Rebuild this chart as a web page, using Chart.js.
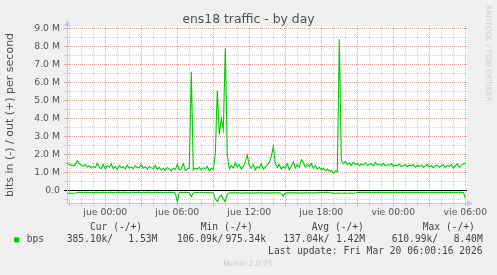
<!DOCTYPE html>
<html>
<head>
<meta charset="utf-8">
<script src="https://cdn.jsdelivr.net/npm/chart.js@4"></script>
<style>
  html, body { margin: 0; padding: 0; background: #f0f0f0; }
  #wrap { position: relative; width: 497px; height: 275px; }
</style>
</head>
<body>
<div id="wrap"><canvas id="trafficChart" width="497" height="275"></canvas></div>
<script>
// samples every 10 minutes, hours relative to "jue 00:00"
const firstSampleHour = -19 / 6;
const sampleStepHours = 1 / 6;

// out (+), in Mbit/s
const outMbps = [
  1.52, 1.45, 1.42, 1.38, 1.45, 1.66, 1.50, 1.42, 1.36, 1.45, 1.30, 1.40, 1.25, 1.35, 1.28, 1.52, 1.30, 1.22, 1.45,
  1.20, 1.38, 1.30, 1.48, 1.22, 1.35, 1.18, 1.40, 1.28, 1.33,
  1.20, 1.42, 1.25, 1.32, 1.22, 1.38, 1.27, 1.30, 1.45, 1.25,
  1.33, 1.20, 1.35, 1.28, 1.22, 1.40, 1.18, 1.30, 1.15, 1.25,
  1.12, 1.28, 1.20, 1.10, 1.25, 1.18, 1.45, 1.15, 1.22, 1.50,
  1.12, 1.20, 1.25, 6.60, 1.15, 1.25,
  1.20, 1.30, 1.15, 1.28, 1.20, 1.35, 1.10, 1.25, 1.18, 2.00, 5.55, 3.10, 4.00, 3.40, 7.90, 2.00,
  1.20, 1.40, 1.25, 1.55, 1.30, 1.45, 1.20, 1.35, 1.60, 1.98,
  1.40, 1.25, 1.45, 1.15, 1.35, 1.25, 1.50, 1.20, 1.30, 1.45,
  1.55, 1.90, 2.44, 1.50, 1.30, 1.45, 1.20, 1.35, 1.25, 1.50,
  1.15, 1.35, 1.60, 1.25, 1.45, 1.30, 1.72, 1.55, 1.30, 1.45,
  1.35, 1.50, 1.25, 1.40, 1.20, 1.30, 1.15, 1.25, 1.10, 1.20,
  1.08, 1.12, 0.98, 1.10, 1.05,
  8.40,
  1.70, 1.50, 1.62, 1.45, 1.55, 1.40, 1.58, 1.45, 1.50, 1.38,
  1.48, 1.42, 1.55, 1.40, 1.45, 1.50, 1.38, 1.58, 1.42, 1.48,
  1.40, 1.52, 1.38, 1.45, 1.40, 1.50, 1.35, 1.42, 1.38, 1.48,
  1.35, 1.40, 1.45, 1.32, 1.42, 1.38, 1.45, 1.30, 1.40, 1.35,
  1.42, 1.30, 1.38, 1.45, 1.32, 1.40, 1.28, 1.38, 1.42, 1.30,
  1.36, 1.45, 1.28, 1.40, 1.35, 1.45, 1.25, 1.38, 1.50, 1.30,
  1.42, 1.48, 1.53
];

// in (-), in Mbit/s, drawn below zero
const inMbps = [
  0.14, 0.14, 0.14, 0.14, 0.14, 0.10, 0.09, 0.09, 0.10, 0.09, 0.09, 0.10, 0.09, 0.12, 0.09, 0.09, 0.10, 0.09, 0.09,
  0.09, 0.10, 0.09, 0.09, 0.12, 0.10, 0.09, 0.09, 0.10, 0.09,
  0.09, 0.10, 0.12, 0.09, 0.09, 0.10, 0.09, 0.09, 0.11, 0.09,
  0.10, 0.09, 0.09, 0.12, 0.10, 0.09, 0.09, 0.10, 0.09, 0.11,
  0.09, 0.10, 0.09, 0.10, 0.09, 0.12, 0.60, 0.10, 0.09, 0.10,
  0.09, 0.10, 0.10, 0.33, 0.12, 0.10,
  0.10, 0.11, 0.10, 0.10, 0.11, 0.10, 0.11, 0.10, 0.12, 0.45, 0.60, 0.35, 0.24, 0.45, 0.61, 0.20, 0.12,
  0.12, 0.12, 0.11, 0.12, 0.12, 0.13, 0.12, 0.11, 0.12, 0.12,
  0.12, 0.13, 0.12, 0.12, 0.11, 0.12, 0.12, 0.12, 0.13, 0.12,
  0.12, 0.11, 0.12, 0.12, 0.12, 0.15, 0.30, 0.13, 0.12, 0.12,
  0.11, 0.12, 0.12, 0.12, 0.13, 0.12, 0.12, 0.11, 0.12, 0.12,
  0.12, 0.12, 0.11, 0.12, 0.09, 0.09, 0.10, 0.09, 0.09, 0.10,
  0.13, 0.13, 0.14, 0.13,
  0.13, 0.14, 0.13, 0.13, 0.14, 0.13, 0.13, 0.14, 0.13, 0.09,
  0.09, 0.09, 0.09, 0.09, 0.09, 0.09, 0.09, 0.09, 0.09, 0.09,
  0.09, 0.09, 0.09, 0.09, 0.09, 0.09, 0.09, 0.09, 0.09, 0.09,
  0.09, 0.09, 0.09, 0.09, 0.09, 0.09, 0.09, 0.09, 0.09, 0.09,
  0.09, 0.09, 0.09, 0.09, 0.09, 0.09, 0.09, 0.09, 0.09, 0.09,
  0.09, 0.09, 0.09, 0.09, 0.09, 0.09, 0.09, 0.09, 0.09, 0.09,
  0.09, 0.09, 0.10, 0.39
];

const xGridHours = [-3, -2, -1, 0, 1, 2, 3, 4, 5, 6, 7, 8, 9, 10, 11, 12, 13, 14, 15, 16,
  17, 18, 19, 20, 21, 22, 23, 24, 25, 26, 27, 28, 29, 30];
const xLabelHours = [0, 6, 12, 18, 24, 30];
const xLabelText = ["jue 00:00", "jue 06:00", "jue 12:00", "jue 18:00", "vie 00:00", "vie 06:00"];

const yGridValues = [-0.5, 0, 0.5, 1, 1.5, 2, 2.5, 3, 3.5, 4, 4.5, 5, 5.5, 6, 6.5, 7, 7.5, 8, 8.5, 9];
const yLabelValues = [0, 1, 2, 3, 4, 5, 6, 7, 8, 9];
const yLabelText = ["0.0", "1.0 M", "2.0 M", "3.0 M", "4.0 M", "5.0 M", "6.0 M", "7.0 M", "8.0 M", "9.0 M"];

const legendHeads = ["Cur (-/+)", "Min (-/+)", "Avg (-/+)", "Max (-/+)"];
const legendIn = ["385.10k/", "106.09k/", "137.04k/", "610.99k/"];
const legendOut = ["1.53M", "975.34k", "1.42M", "8.40M"];

const GREEN = "#00cc00";
const MINOR = "#cfcfcf";
const MAJOR = "#e6a0a0";
const AXIS = "#c4c4f4";

const sampleHours = outMbps.map((_, i) => firstSampleHour + i * sampleStepHours);

const munin = {
  id: "munin",
  beforeDraw(chart) {
    const c = chart.ctx, a = chart.chartArea;
    c.save();
    c.fillStyle = "#f0f0f0";
    c.fillRect(0, 0, chart.width, chart.height);
    c.fillStyle = "#ffffff";
    c.fillRect(a.left, a.top, a.right - a.left, a.bottom - a.top);
    c.restore();
  },
  afterDraw(chart) {
    const c = chart.ctx, a = chart.chartArea;
    c.save();
    // axis arrows
    c.fillStyle = AXIS;
    c.beginPath();
    c.moveTo(a.left - 3, a.top);
    c.lineTo(a.left + 3.5, a.top);
    c.lineTo(a.left + 0.5, a.top - 5.5);
    c.fill();
    c.beginPath();
    c.moveTo(a.right, a.bottom - 3);
    c.lineTo(a.right, a.bottom + 3.5);
    c.lineTo(a.right + 6, a.bottom + 0.5);
    c.fill();

    c.fillStyle = "#505050";
    c.textBaseline = "middle";
    c.textAlign = "center";
    c.font = "12.4px 'DejaVu Sans'";
    c.fillText("ens18 traffic - by day", 248.5, 19.5);

    c.save();
    c.translate(10.5, 115);
    c.rotate(-Math.PI / 2);
    c.font = "11px 'DejaVu Sans'";
    c.fillText("bits in (-) / out (+) per second", 0, 0);
    c.restore();

    c.save();
    c.translate(487.5, 5);
    c.rotate(Math.PI / 2);
    c.textAlign = "left";
    c.fillStyle = "#cdcdcd";
    c.font = "7.5px 'DejaVu Sans'";
    c.fillText("RRDTOOL / TOBI OETIKER", 0, 0);
    c.restore();

    // legend
    c.font = "9.65px 'DejaVu Sans Mono'";
    c.fillStyle = "#444";
    c.textAlign = "left";
    const headX = [90, 200.7, 311.7, 422.7];
    const inX = [66.7, 177, 283.3, 391.7];
    const outX = [157.3, 266, 365, 482.7];
    legendHeads.forEach((t, i) => c.fillText(t, headX[i], 227.5));
    c.fillText("bps", 26.7, 239.5);
    legendIn.forEach((t, i) => c.fillText(t, inX[i], 239.5));
    c.textAlign = "right";
    legendOut.forEach((t, i) => c.fillText(t, outX[i], 239.5));
    c.fillText("Last update: Fri Mar 20 06:00:16 2026", 482.5, 251);
    c.fillStyle = GREEN;
    c.fillRect(14, 237.3, 5.3, 5);

    c.textAlign = "left";
    c.fillStyle = "#c8c8c8";
    c.font = "7.5px 'DejaVu Sans'";
    c.fillText("Munin 2.0.75", 223.3, 264);
    c.restore();
  }
};

const xColor = c => (c.tick && c.tick.value % 3 === 0 ? MAJOR : MINOR);
const yColor = c => {
  if (!c.tick) return MINOR;
  if (c.tick.value === 0) return "#000000";
  return Number.isInteger(c.tick.value) ? MAJOR : MINOR;
};

const ctx = document.getElementById("trafficChart").getContext("2d");
const myChart = new Chart(ctx, {
  type: "line",
  data: {
    datasets: [
      {
        label: "out",
        data: outMbps.map((v, i) => ({ x: sampleHours[i], y: v })),
        borderColor: GREEN,
        borderWidth: 1.1,
        pointRadius: 0,
        tension: 0,
        fill: false
      },
      {
        label: "in",
        data: inMbps.map((v, i) => ({ x: sampleHours[i], y: -v })),
        borderColor: GREEN,
        borderWidth: 1.1,
        pointRadius: 0,
        tension: 0,
        fill: false
      }
    ]
  },
  options: {
    responsive: false,
    animation: false,
    events: [],
    layout: { padding: { left: 0, top: 26, right: 30, bottom: 52 } },
    plugins: { legend: { display: false }, tooltip: { enabled: false } },
    scales: {
      x: {
        type: "linear",
        min: -3.19,
        max: 30.14,
        afterBuildTicks: s => { s.ticks = xGridHours.map(v => ({ value: v })); },
        afterFit: s => { s.height = 20; },
        grid: { color: xColor, tickColor: xColor, tickLength: 3, lineWidth: 1 },
        border: { color: AXIS, width: 1, dash: c => (c.tick ? [1, 1] : []) },
        ticks: {
          autoSkip: false,
          maxRotation: 0,
          padding: 1,
          color: "#555",
          font: { family: "DejaVu Sans", size: 9.3 },
          callback: v => {
            const i = xLabelHours.indexOf(v);
            return i >= 0 ? xLabelText[i] : "";
          }
        }
      },
      y: {
        min: -0.68,
        max: 9.13,
        afterBuildTicks: s => { s.ticks = yGridValues.map(v => ({ value: v })); },
        afterFit: s => { s.width = 67; },
        grid: { color: yColor, tickColor: yColor, tickLength: 3, lineWidth: 1 },
        border: { color: AXIS, width: 1, dash: c => (c.tick && c.tick.value !== 0 ? [1, 1] : []) },
        ticks: {
          autoSkip: false,
          padding: 4,
          color: "#555",
          font: { family: "DejaVu Sans", size: 9.3 },
          callback: v => {
            const i = yLabelValues.indexOf(v);
            return i >= 0 ? yLabelText[i] : "";
          }
        }
      }
    }
  },
  plugins: [munin]
});
</script>
</body>
</html>
